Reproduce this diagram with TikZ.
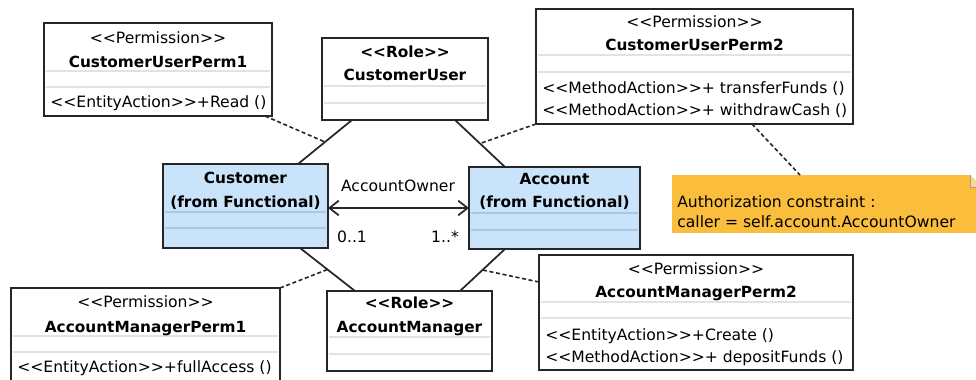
\documentclass[tikz,border=0pt]{standalone}
\usepackage{fontspec}
\newfontfamily\umlfont{DejaVu Sans}
\usetikzlibrary{arrows.meta,calc}
\definecolor{linec}{HTML}{262626}
\definecolor{sepgrey}{HTML}{E2E2E2}
\definecolor{funcblue}{HTML}{C8E3FA}
\definecolor{funcsep}{HTML}{A9C9E2}
\definecolor{notefill}{HTML}{FBBE3C}
\definecolor{foldfill}{HTML}{FDD88A}
\definecolor{foldgrey}{HTML}{A0A0A0}
\newcommand\uf{\umlfont\fontsize{11.7}{13.5}\selectfont}
\newcommand\ufb{\umlfont\fontsize{11.5}{13.5}\selectfont\bfseries}
\newcommand\stereo[1]{<\kern0pt<#1>\kern0pt>}
% class box: name, left, top, right, bottom, style
\newcommand\umlbox[6]{%
  \pgfmathsetmacro\ubw{(#4-#2)*0.75}%
  \pgfmathsetmacro\ubh{(#5-#3)*0.75}%
  \node[#6, anchor=north west, minimum width=\ubw pt, minimum height=\ubh pt] (#1) at (#2,#3) {};}
% compartment separator: left, right, y, style
\newcommand\usep[4]{\draw[#4] (#1+1.8,#3) -- (#2-1.8,#3);}
\begin{document}
\begin{tikzpicture}[x=0.75pt,y=-0.75pt,font=\uf,
  box/.style={draw=linec, line width=1.3pt, fill=white, inner sep=0pt, outer sep=0pt},
  funcbox/.style={box, fill=funcblue},
  notebox/.style={fill=notefill, inner sep=0pt, outer sep=0pt},
  sep/.style={draw=sepgrey, line width=0.8pt},
  fsep/.style={draw=funcsep, line width=0.8pt},
  lbl/.style={anchor=base, inner sep=0pt},
  blbl/.style={lbl, font=\ufb},
  oplbl/.style={anchor=base west, inner sep=0pt},
  assoc/.style={draw=linec, line width=1.3pt},
  dep/.style={draw=linec, line width=1.2pt, dash pattern=on 3pt off 2pt},
  nav/.style={draw=linec, line width=1.3pt, {Straight Barb[length=7pt,width=11pt]}-{Straight Barb[length=7pt,width=11pt]}}]
\useasboundingbox (0,0) rectangle (976,379);
\clip (0,0) rectangle (976,379);
\fill[white] (0,0) rectangle (976,379);

% ---- boxes ----
\umlbox{cup1}{44}{23}{272}{116}{box}
\usep{44}{272}{71}{sep}\usep{44}{272}{87}{sep}
\umlbox{cu}{322}{38}{488}{120}{box}
\usep{322}{488}{86}{sep}\usep{322}{488}{103}{sep}
\umlbox{cup2}{536}{9}{853}{124}{box}
\usep{536}{853}{55}{sep}\usep{536}{853}{72}{sep}
\umlbox{cust}{163}{164}{328}{248}{funcbox}
\usep{163}{328}{212}{fsep}\usep{163}{328}{228}{fsep}
\umlbox{acc}{469}{167}{640}{249}{funcbox}
\usep{469}{640}{213}{fsep}\usep{469}{640}{230}{fsep}
\umlbox{am}{327}{291}{492}{371}{box}
\usep{327}{492}{337}{sep}\usep{327}{492}{354}{sep}
\umlbox{amp1}{11}{288}{280}{400}{box}
\usep{11}{280}{336}{sep}\usep{11}{280}{352}{sep}
\umlbox{amp2}{539}{255}{853}{370}{box}
\usep{539}{853}{302}{sep}\usep{539}{853}{318}{sep}

% ---- note with folded corner ----
\umlbox{note}{672}{175}{982}{233}{notebox}
\fill[white] (970,175) -- (982,175) -- (982,187) -- cycle;
\filldraw[fill=foldfill, draw=foldgrey, line width=0.5pt] (970,175) -- (970,187) -- (982,187);

% ---- texts ----
\node[lbl]  (t1a) at (158,43) {\stereo{Permission}};
\node[blbl] (t1b) at (158,67) {CustomerUserPerm1};
\node[oplbl] (t1c) at (50,107) {\stereo{EntityAction}+Read ()};

\node[blbl] (t2a) at (405,57) {\stereo{Role}};
\node[blbl] (t2b) at (405,80) {CustomerUser};

\node[lbl]  (t3a) at (694.5,27) {\stereo{Permission}};
\node[blbl] (t3b) at (694.5,50) {CustomerUserPerm2};
\node[oplbl] (t3c) at (542,93) {\stereo{MethodAction}+ transferFunds ()};
\node[oplbl] (t3d) at (542,115) {\stereo{MethodAction}+ withdrawCash ()};

\node[blbl] (t4a) at (245.5,183) {Customer};
\node[blbl] (t4b) at (245.5,207) {(from Functional)};

\node[blbl] (t5a) at (554.5,184) {Account};
\node[blbl] (t5b) at (554.5,207) {(from Functional)};

\node[oplbl] (t6a) at (677,207) {Authorization constraint :};
\node[oplbl] (t6b) at (677,227) {caller = self.account.AccountOwner};

\node[blbl] (t7a) at (409.5,308) {\stereo{Role}};
\node[blbl] (t7b) at (409.5,332) {AccountManager};

\node[lbl]  (t8a) at (145.5,307) {\stereo{Permission}};
\node[blbl] (t8b) at (145.5,332) {AccountManagerPerm1};
\node[oplbl] (t8c) at (17,372) {\stereo{EntityAction}+fullAccess ()};

\node[lbl]  (t9a) at (696,274) {\stereo{Permission}};
\node[blbl] (t9b) at (696,297) {AccountManagerPerm2};
\node[oplbl] (t9c) at (545,340) {\stereo{EntityAction}+Create ()};
\node[oplbl] (t9d) at (545,362) {\stereo{MethodAction}+ depositFunds ()};

% ---- role associations ----
\draw[assoc] ($(cu.south west)+(30,0)$) -- coordinate[pos=0.5] (m1) ($(cust.north west)+(135,0)$);
\draw[assoc] ($(cu.south west)+(133,0)$) -- coordinate[pos=0.5] (m2) ($(acc.north west)+(36,0)$);
\draw[assoc] ($(cust.south west)+(137,0)$) -- coordinate[pos=0.5] (m3) ($(am.north west)+(28,0)$);
\draw[assoc] ($(acc.south west)+(36,0)$) -- coordinate[pos=0.5] (m4) ($(am.north west)+(133,0)$);

% ---- permission attachments ----
\draw[dep] ($(cup1.south east)+(-7,0)$) -- (m1);
\draw[dep] (cup2.south west) -- (m2);
\draw[dep] (amp1.north east) -- (m3);
\draw[dep] ($(amp2.north west)+(0,27)$) -- (m4);
\draw[dep] ($(cup2.south west)+(216,0)$) -- ($(note.north west)+(128,0)$);

% ---- AccountOwner association ----
\draw[nav] ($(cust.north east)+(0,44)$) -- ($(acc.north west)+(0,41)$);
\node[lbl] (aown) at (398,191) {AccountOwner};
\node[lbl] (mlo) at (352,242) {0..1};
\node[lbl] (mhi) at (445,242) {1..*};
\end{tikzpicture}
\end{document}
